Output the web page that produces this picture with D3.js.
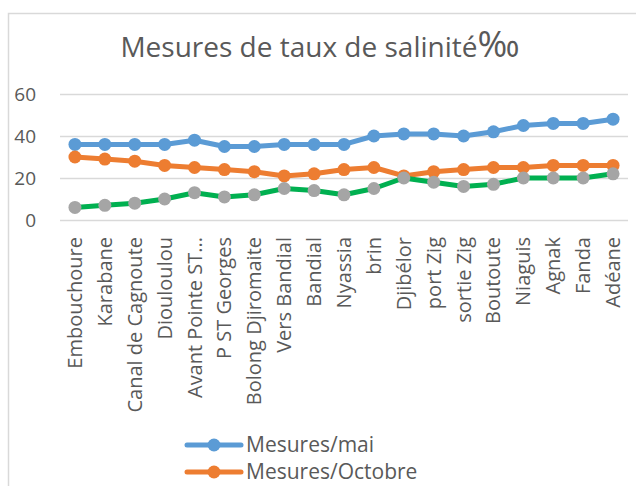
<!DOCTYPE html>
<html><head><meta charset="utf-8">
<script src="https://cdn.jsdelivr.net/npm/d3@7"></script>
<style>body{margin:0;background:#fff}svg{display:block}text{font-family:"Open Sans",sans-serif;fill:#595959}</style>
</head><body><svg id="c" width="636" height="486"></svg>
<script>
const categories = ["Embouchoure","Karabane","Canal de Cagnoute","Diouloulou","Avant Pointe ST...","P ST Georges","Bolong Djiromaite","Vers Bandial","Bandial","Nyassia","brin","Djibélor","port Zig","sortie Zig","Boutoute","Niaguis","Agnak","Fanda","Adéane"];
const mai = [36,36,36,36,38,35,35,36,36,36,40,41,41,40,42,45,46,46,48];
const octobre = [30,29,28,26,25,24,23,21,22,24,25,21,23,24,25,25,26,26,26];
const serie3 = [6,7,8,10,13,11,12,15,14,12,15,20,18,16,17,20,20,20,22];
const yTicks = [0,20,40,60];
const titleText = "Mesures de taux de salinité";
const titleUnit = "‰";

const svg = d3.select("#c");
svg.append("rect").attr("x",8.5).attr("y",13.5).attr("width",700).attr("height",700)
  .attr("fill","#fff").attr("stroke","#d9d9d9").attr("stroke-width",1.5);

const t = svg.append("text").attr("x",320).attr("y",57).attr("text-anchor","middle")
  .style("font-size","28px");
t.append("tspan").text(titleText);
t.append("tspan").style("font-size","36px").text(titleUnit);

const x = d3.scaleBand().domain(categories).range([60,628]);
const y = d3.scaleLinear().domain([0,60]).range([220,94]);

const gy = svg.append("g");
gy.selectAll("line").data(yTicks).join("line")
  .attr("x1",60).attr("x2",628).attr("y1",d=>y(d)+0.5).attr("y2",d=>y(d)+0.5)
  .attr("stroke","#d9d9d9").attr("stroke-width",1.5);
gy.selectAll("text").data(yTicks).join("text")
  .attr("x",36).attr("y",d=>y(d)).attr("dy","0.35em").attr("text-anchor","end")
  .style("font-size","19px").text(d=>d);

svg.append("g").selectAll("text").data(categories).join("text")
  .attr("transform",d=>`translate(${x(d)+x.bandwidth()/2},237) rotate(-90)`)
  .attr("dy","0.35em").attr("text-anchor","end").style("font-size","20px").text(d=>d);

const cx = (d,i)=>x(categories[i])+x.bandwidth()/2;
const line = d3.line().x((d,i)=>cx(d,i)).y(d=>y(d));
const series = [
  {name:"Mesures/mai", data:mai, line:"#5B9BD5", marker:"#5B9BD5"},
  {name:"Mesures/Octobre", data:octobre, line:"#ED7D31", marker:"#ED7D31"},
  {name:"", data:serie3, line:"#00B050", marker:"#A5A5A5"}
];
series.forEach(s=>{
  svg.append("path").datum(s.data).attr("d",line).attr("fill","none")
    .attr("stroke",s.line).attr("stroke-width",5).attr("stroke-linejoin","round").attr("stroke-linecap","round");
  svg.append("g").selectAll("circle").data(s.data).join("circle")
    .attr("cx",(d,i)=>cx(d,i)).attr("cy",d=>y(d)).attr("r",6.5).attr("fill",s.marker);
});

const lg = svg.append("g");
series.slice(0,2).forEach((s,i)=>{
  const ly = 445 + i*27;
  lg.append("line").attr("x1",187).attr("x2",241).attr("y1",ly).attr("y2",ly)
    .attr("stroke",s.line).attr("stroke-width",5).attr("stroke-linecap","round");
  lg.append("circle").attr("cx",214).attr("cy",ly).attr("r",6.5).attr("fill",s.marker);
  lg.append("text").attr("x",246).attr("y",ly).attr("dy","0.35em").style("font-size","21px").text(s.name);
});
</script></body></html>
